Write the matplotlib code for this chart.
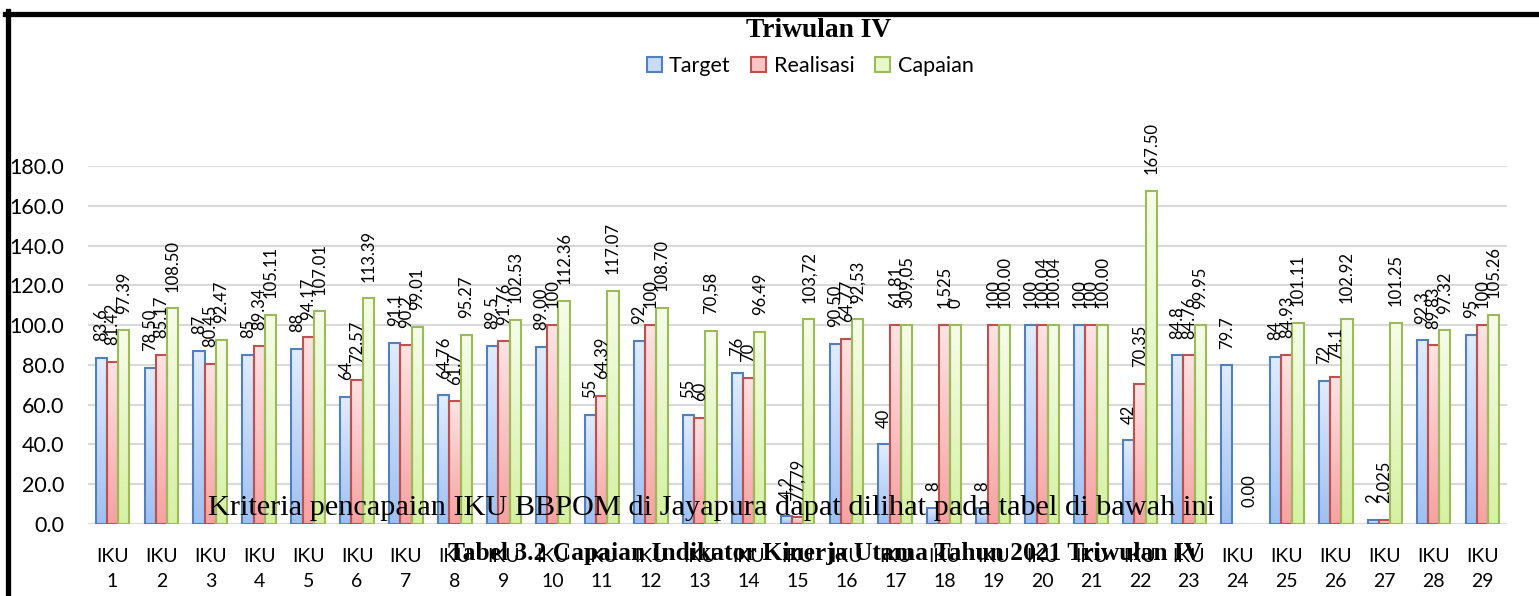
import numpy as np
import matplotlib
matplotlib.use("Agg")
import matplotlib.pyplot as plt
from matplotlib.colors import LinearSegmentedColormap
from matplotlib.patches import Patch
from matplotlib.lines import Line2D

# ---------------- data ----------------
categories = [f"IKU\n{i}" for i in range(1, 30)]

target = [83.6, 78.5, 87, 85, 88, 64, 91.1, 64.76, 89.5, 89.0,
          55, 92, 55, 76, 4.2, 90.5, 40, 8, 8, 100,
          100, 42, 84.8, 79.7, 84, 72, 2, 92.3, 95]
realisasi = [81.42, 85.17, 80.45, 89.34, 94.17, 72.57, 90.2, 61.7, 91.76, 100,
             64.39, 100, 53.4, 73.2, 3.3, 93.2, 100, 100, 100, 100,
             100, 70.35, 84.76, np.nan, 84.93, 74.1, 2.025, 89.83, 100]
capaian = [97.39, 108.5, 92.47, 105.11, 107.01, 113.39, 99.01, 95.27, 102.53, 112.36,
           117.07, 108.7, 97.2, 96.49, 102.9, 102.9, 100, 100, 100, 100.04,
           100, 167.5, 99.95, 0.0, 101.11, 102.92, 101.25, 97.32, 105.26]

target_labels = ["83.6", "78.50", "87", "85", "88", "64", "91.1", "64.76", "89.5", "89.00",
                 "55", "92", "55", "76", "4,2", "90.50", "40", "8", "8", "100",
                 "100", "42", "84.8", "79.7", "84", "72", "2", "92.3", "95"]
realisasi_labels = ["81.42", "85.17", "80.45", "89.34", "94.17", "72.57", "90.2", "61.7", "91.76", "100",
                    "64.39", "100", "60", "70", "77,79", "64,77", "61,81", "1,525", "100", "100.04",
                    "100", "70.35", "84.76", "", "84.93", "74.1", "2.025", "89.83", "100"]
capaian_labels = ["97.39", "108.50", "92.47", "105.11", "107.01", "113.39", "99.01", "95.27", "102.53", "112.36",
                  "117.07", "108.70", "70,58", "96.49", "103,72", "92,53", "309,05", "0", "100.00", "100.04",
                  "100.00", "167.50", "99.95", "0.00", "101.11", "102.92", "101.25", "97.32", "105.26"]

series_names = ["Target", "Realisasi", "Capaian"]
yticks = [0, 20, 40, 60, 80, 100, 120, 140, 160, 180]

title = "Triwulan IV"
overlay1 = "Kriteria pencapaian IKU BBPOM di Jayapura dapat dilihat pada tabel di bawah ini"
overlay2 = "Tabel 3.2 Capaian Indikator Kinerja Utama Tahun 2021 Triwulan IV"

# ---------------- style ----------------
W, H = 1539, 596
sans = ["Lato", "DejaVu Sans"]
serif = ["Liberation Serif", "DejaVu Serif"]
plt.rcParams["font.family"] = sans

edge_cols = ["#4f81bd", "#c0504d", "#9bbb59"]
grad_cols = [("#9fc0f2", "#e2ecfc"), ("#f6a2a2", "#fde3e3"), ("#d6f1a2", "#f6fce9")]
legend_face = ["#c9dbf8", "#f9c4c4", "#e8f7c9"]

fig = plt.figure(figsize=(W / 100, H / 100), dpi=100)
ax = fig.add_axes([88 / W, (H - 524) / H, (1507 - 88) / W, (524 - 166) / H])

n = len(categories)
x = np.arange(n)
bw = 0.23
offsets = [-bw, 0, bw]
series = [target, realisasi, capaian]
labels = [target_labels, realisasi_labels, capaian_labels]

grad = np.linspace(0, 1, 64).reshape(-1, 1)
for s, (vals, labs) in enumerate(zip(series, labels)):
    cmap = LinearSegmentedColormap.from_list(f"g{s}", list(grad_cols[s]))
    for i, v in enumerate(vals):
        xc = x[i] + offsets[s]
        if not np.isnan(v) and v > 0:
            ax.imshow(grad, extent=(xc - bw / 2, xc + bw / 2, 0, v), origin="lower",
                      cmap=cmap, aspect="auto", zorder=2, interpolation="bilinear")
            ax.bar(xc, v, width=bw, fill=False, edgecolor=edge_cols[s], linewidth=1.5, zorder=3)
        if labs[i]:
            yv = 0 if np.isnan(v) else v
            ax.annotate(labs[i], (xc, yv), xytext=(0, 12), textcoords="offset points",
                        rotation=90, ha="center", va="bottom", fontsize=12,
                        color="#000000", annotation_clip=False, zorder=5)

ax.set_xlim(-0.5, n - 0.5)
ax.set_ylim(0, 180)
ax.set_aspect("auto")
ax.set_yticks(yticks)
ax.set_yticklabels([f"{t:.1f}" for t in yticks], fontsize=15.5)
ax.set_xticks(x)
ax.set_xticklabels(categories, fontsize=14, linespacing=1.6)
ax.tick_params(axis="both", length=0)
ax.tick_params(axis="y", pad=17)
ax.tick_params(axis="x", pad=17)
ax.yaxis.grid(True, color="#d9d9d9", linewidth=1.5)
ax.set_axisbelow(True)
for sp in ax.spines.values():
    sp.set_visible(False)

# title and legend
fig.text(818.5 / W, 1 - 37 / H, title, ha="center", va="baseline", fontsize=19.8,
         fontweight="bold", family=serif)
handles = [Patch(facecolor=legend_face[k], edgecolor=edge_cols[k], linewidth=1.5) for k in range(3)]
fig.legend(handles, series_names, loc="center", bbox_to_anchor=(810 / W, 1 - 66 / H), ncol=3,
           frameon=False, fontsize=15.5, handlelength=0.7, handleheight=0.7,
           handletextpad=0.35, columnspacing=0.95)

# overlaid document text
t1 = fig.text(208 / W, 1 - 515 / H, overlay1, ha="left", va="baseline", fontsize=22,
              family=serif, zorder=10)
t2 = fig.text(448 / W, 1 - 560 / H, overlay2, ha="left", va="baseline", fontsize=18,
              fontweight="bold", family=serif, zorder=10)
fig.canvas.draw()
r = fig.canvas.get_renderer()
for t, wanted in ((t1, 1212 - 208), (t2, 1200 - 448)):
    wnow = t.get_window_extent(r).width
    t.set_fontsize(t.get_fontsize() * wanted / wnow)

# frame lines
fig.add_artist(Line2D([5 / W, 1], [1 - 13.5 / H, 1 - 13.5 / H], color="black", linewidth=3.8))
fig.add_artist(Line2D([7.5 / W, 7.5 / W], [0, 1 - 11 / H], color="black", linewidth=3.8))

fig.savefig("out.png", dpi=100)
